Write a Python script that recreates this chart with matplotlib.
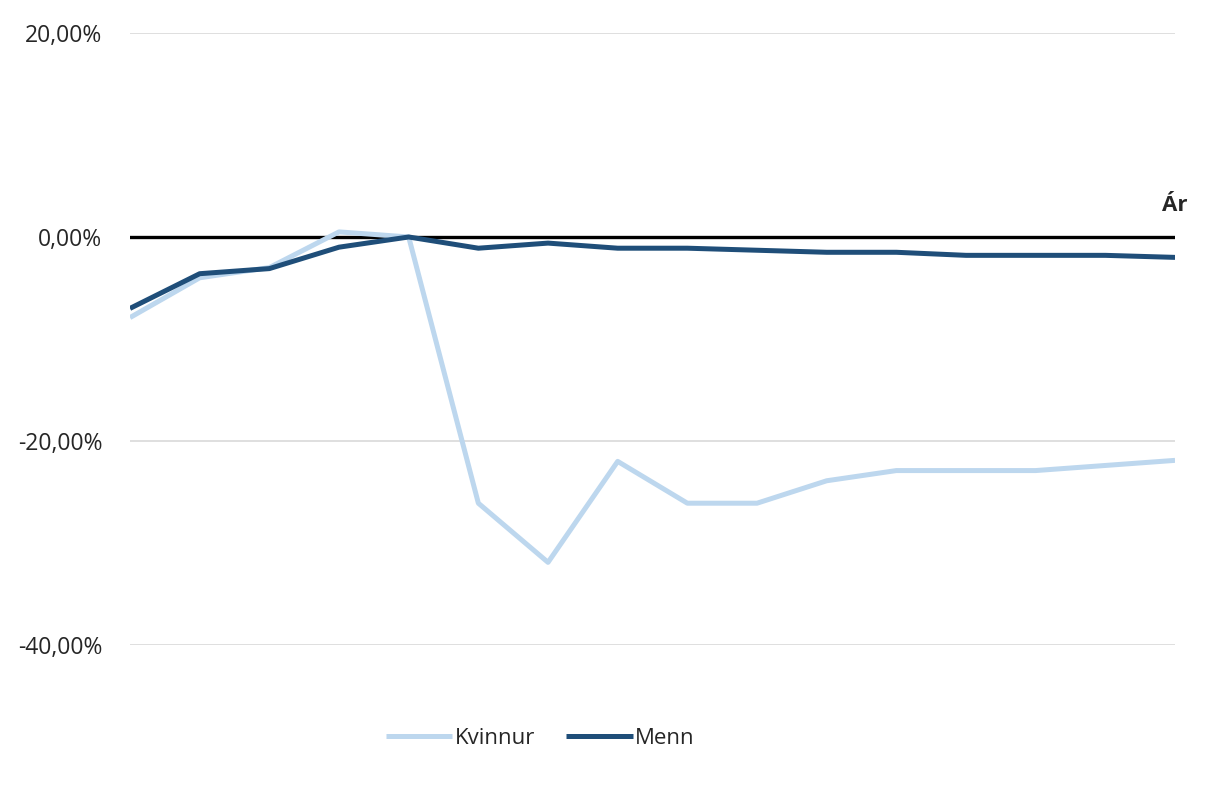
import matplotlib
matplotlib.use("Agg")
import matplotlib.pyplot as plt
from matplotlib.ticker import FuncFormatter

plt.rcParams['font.family'] = ['Open Sans', 'DejaVu Sans']

periods = list(range(16))
kvinnur = [-7.9, -4.0, -3.0, 0.5, 0.0, -26.1, -31.9, -22.0, -26.1, -26.1, -23.9, -22.9, -22.9, -22.9, -22.4, -21.9]
menn = [-7.0, -3.6, -3.1, -1.0, 0.0, -1.1, -0.6, -1.1, -1.1, -1.3, -1.5, -1.5, -1.8, -1.8, -1.8, -2.0]
yticks = [-40, -20, 0, 20]
series_names = ["Kvinnur", "Menn"]
axis_label = "Ár"

fig = plt.figure(figsize=(12.14, 7.91), dpi=100)
ax = fig.add_axes([0.1071, 0.1846, 0.8608, 0.7737])

ax.set_xlim(periods[0], periods[-1])
ax.set_ylim(-40, 20)
ax.set_yticks(yticks)
ax.yaxis.set_major_formatter(FuncFormatter(lambda v, p: f"{v:.2f}".replace('.', ',') + "%"))
ax.grid(axis='y', color='#D9D9D9', linewidth=1.2)
ax.set_axisbelow(True)
ax.set_xticks([])
for s in ax.spines.values():
    s.set_visible(False)
ax.tick_params(axis='y', length=0, pad=20, labelsize=16.5, labelcolor='#262626')

ax.axhline(0, color='black', linewidth=2.4, zorder=2)
ax.plot(periods, kvinnur, color='#BDD7EE', linewidth=3.6, label=series_names[0], zorder=3, solid_capstyle='butt')
ax.plot(periods, menn, color='#1F4E79', linewidth=3.6, label=series_names[1], zorder=4, solid_capstyle='butt')

ax.text(periods[-1], 2.1, axis_label, ha='center', va='bottom', fontsize=16, fontweight='bold', color='#262626')

fig.legend(loc='center', bbox_to_anchor=(0.445, 0.067), ncol=2, frameon=False,
           fontsize=16, handlelength=3.0, handletextpad=0.1, columnspacing=1.4,
           labelcolor='#262626')

fig.savefig("out.png", dpi=100, facecolor='white')
